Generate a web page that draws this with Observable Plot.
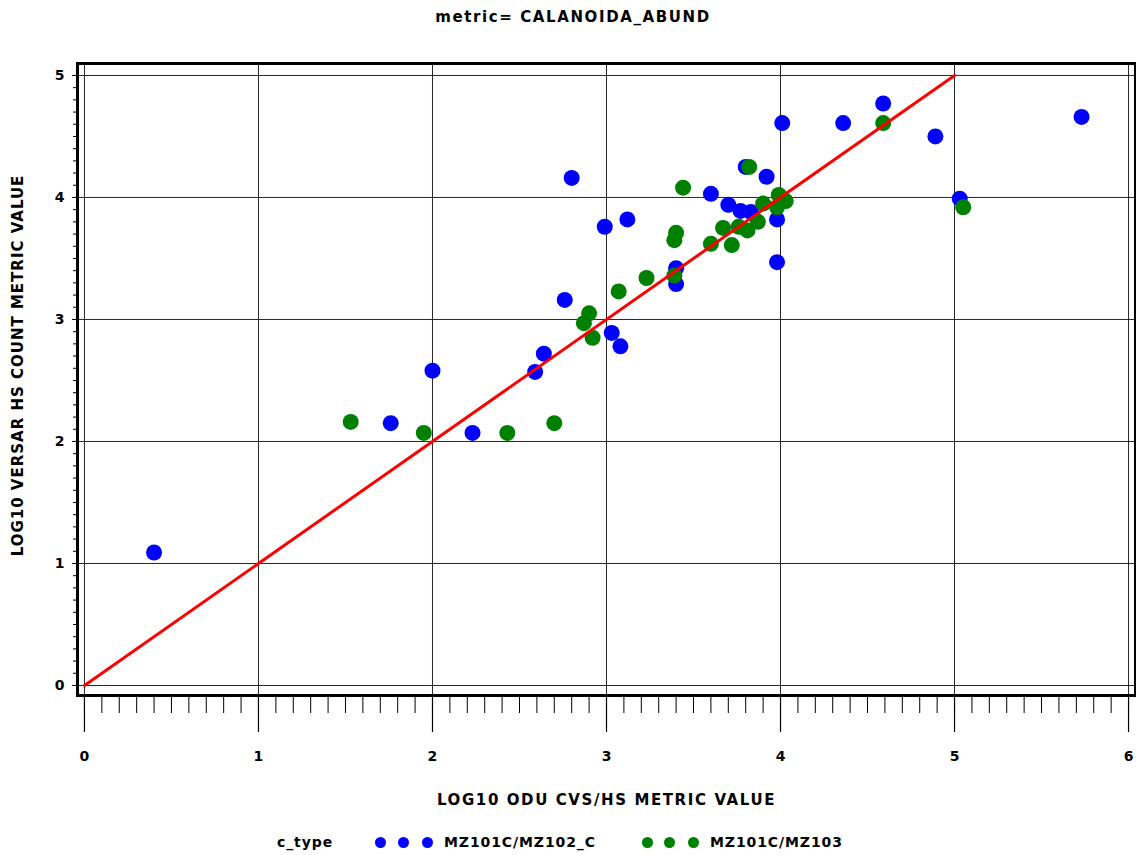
<!DOCTYPE html>
<html><head><meta charset="utf-8">
<script src="https://cdn.jsdelivr.net/npm/d3@7"></script>
<script src="https://cdn.jsdelivr.net/npm/@observablehq/plot@0.6"></script>
<style>
body{margin:0;background:#fff;font-family:"DejaVu Sans",sans-serif;font-weight:bold;color:#000;}
#wrap{position:relative;width:1136px;height:855px;overflow:hidden;}
#title{position:absolute;top:0;left:10px;width:1126px;height:34px;line-height:34px;text-align:center;font-size:15px;letter-spacing:1.6px;}
#chart{position:absolute;top:35px;left:0;}
#legend{position:absolute;top:825px;left:0;width:1136px;height:30px;font-size:14px;}
.lg{position:absolute;top:0;height:34px;line-height:34px;white-space:nowrap;letter-spacing:0.9px;}
.dot{position:absolute;top:12px;width:11px;height:11px;border-radius:50%;}
</style></head>
<body><div id="wrap"><div id="title">metric= CALANOIDA_ABUND</div><div id="chart"></div><div id="legend"></div></div>
<script>
// ---- data ----
const blueX = [0.40,1.76,2.00,2.23,2.59,2.64,2.76,2.80,2.99,3.03,3.08,3.12,3.40,3.40,3.60,3.70,3.77,3.83,3.80,3.92,3.98,3.98,4.01,4.36,4.59,4.89,5.03,5.73];
const blueY = [1.09,2.15,2.58,2.07,2.57,2.72,3.16,4.16,3.76,2.89,2.78,3.82,3.42,3.29,4.03,3.94,3.89,3.88,4.25,4.17,3.82,3.47,4.61,4.61,4.77,4.50,3.99,4.66];
const greenX = [1.53,1.95,2.43,2.70,2.90,2.87,2.92,3.07,3.23,3.39,3.40,3.39,3.44,3.60,3.72,3.67,3.76,3.81,3.87,3.90,3.99,4.03,3.98,3.82,4.59,5.05];
const greenY = [2.16,2.07,2.07,2.15,3.05,2.97,2.85,3.23,3.34,3.36,3.71,3.65,4.08,3.62,3.61,3.75,3.76,3.73,3.80,3.95,4.02,3.97,3.92,4.25,4.61,3.92];
const seriesNames = ["MZ101C/MZ102_C","MZ101C/MZ103"];
const seriesColors = ["#0000ff","#008000"];
const diagX = [0,5];
const diagY = [0,5];
const xTicks = [0,1,2,3,4,5,6];
const yTicks = [0,1,2,3,4,5];
const xMinor = d3.range(0,61).map(i=>i/10);
const yMinor = d3.range(0,51).map(i=>i/10);
const titleText = "metric= CALANOIDA_ABUND";
const xLabel = "LOG10 ODU CVS/HS METRIC VALUE";
const yLabel = "LOG10 VERSAR HS COUNT METRIC VALUE";
const legendTitle = "c_type";

// ---- build ----
const pts = [
  ...blueX.map((x,i)=>({x, y: blueY[i], s: seriesNames[0]})),
  ...greenX.map((x,i)=>({x, y: greenY[i], s: seriesNames[1]}))
];
const diag = diagX.map((x,i)=>({x, y: diagY[i]}));

const chart = Plot.plot({
  width: 1136, height: 790,
  marginTop: 28, marginBottom: 130, marginLeft: 77, marginRight: 1,
  x: {domain: [-0.04, 6.04]},
  y: {domain: [-0.082, 5.098]},
  color: {domain: seriesNames, range: seriesColors},
  style: {fontFamily: "DejaVu Sans, sans-serif", fontWeight: "bold", fontSize: "14px", color: "#000", background: "#fff", overflow: "visible"},
  marks: [
    Plot.gridX(xTicks, {stroke: "#000", strokeOpacity: 0.85, strokeWidth: 1}),
    Plot.gridY(yTicks, {stroke: "#000", strokeOpacity: 0.85, strokeWidth: 1}),
    Plot.axisX(xMinor, {tickSize: 18, text: null, label: null, strokeWidth: 1}),
    Plot.axisX(xTicks, {tickSize: 37, tickPadding: 19, label: null, strokeWidth: 1.2, tickFormat: d => String(d)}),
    Plot.axisY(yMinor, {tickSize: 4, text: null, label: null}),
    Plot.axisY(yTicks, {tickSize: 5, tickPadding: 8, label: null, tickFormat: d => String(d)}),
    Plot.text([xLabel], {frameAnchor: "bottom", dy: 105, lineAnchor: "middle", textAnchor: "middle", fontSize: 15}),
    Plot.text([yLabel], {frameAnchor: "left", rotate: -90, dx: -59, dy: -14, lineAnchor: "middle", textAnchor: "middle", fontSize: 15}),
    Plot.dot(pts, {x: "x", y: "y", fill: "s", r: 8}),
    Plot.line(diag, {x: "x", y: "y", stroke: "#ff0000", strokeWidth: 3}),
    Plot.frame({stroke: "#000", strokeWidth: 3})
  ]
});
// widen the label lettering like the original
d3.select(chart).selectAll("text").each(function(){
  const t = this.textContent;
  if (t === xLabel) this.setAttribute("letter-spacing", "1.6px");
  if (t === yLabel) this.setAttribute("letter-spacing", "1.0px");
});
document.getElementById("chart").appendChild(chart);

// legend
const lg = document.getElementById("legend");
function add(html, left, cls){const d=document.createElement("div");d.className=cls;d.style.left=left+"px";d.innerHTML=html;lg.appendChild(d);return d;}
add(legendTitle, 277, "lg");
[[380,403,427],[647,669,693]].forEach((xs,k)=>{
  xs.forEach(x=>{const d=add("", x-5.5, "dot"); d.style.background=seriesColors[k];});
});
add(seriesNames[0], 444, "lg");
add(seriesNames[1], 710, "lg");
</script>
</body></html>
